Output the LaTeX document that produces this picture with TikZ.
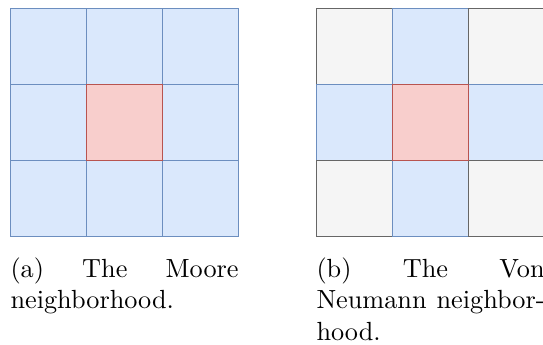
\documentclass[tikz,border=0pt]{standalone}
\usepackage{xcolor}
\usepackage{tikz}

\definecolor{nbrfill}{HTML}{DAE8FC}
\definecolor{nbrline}{HTML}{6C8EBF}
\definecolor{ctrfill}{HTML}{F8CECC}
\definecolor{ctrline}{HTML}{B85450}
\definecolor{farfill}{HTML}{F5F5F5}
\definecolor{farline}{HTML}{666666}
\hyphenation{Neumann neighbor-hood}

\begin{document}
\begin{tikzpicture}[
  x=0.381pt, y=-0.381pt,
  cell/.style={draw, minimum size=28.96pt, inner sep=0pt, outer sep=0pt, line width=0.35pt},
  nbr/.style={cell, fill=nbrfill, draw=nbrline},
  ctr/.style={cell, fill=ctrfill, draw=ctrline},
  far/.style={cell, fill=farfill, draw=farline},
  caption/.style={anchor=north west, text width=86.9pt, align=justify, inner sep=0pt}
]
\useasboundingbox (0,0) rectangle (543,345);

% Moore neighborhood
\foreach \r in {0,1,2}
  \foreach \c in {0,1,2}
    \node[nbr] (moore-\r\c) at ({48+76*\c},{46+76*\r}) {};
\node[ctr] (moore-c) at (124,122) {};

% Von Neumann neighborhood
\foreach \r/\c/\s in {0/0/far,0/1/nbr,0/2/far,1/0/nbr,1/2/nbr,2/0/far,2/1/nbr,2/2/far}
  \node[style=\s] (vn-\r\c) at ({354+76*\c},{46+76*\r}) {};
\node[ctr] (vn-c) at (430,122) {};

% captions
\node[caption] (cap-a) at (10,257) {(a) The Moore neighborhood.};
\node[caption] (cap-b) at (316,257) {(b) The Von Neumann neighborhood.};
\end{tikzpicture}
\end{document}
